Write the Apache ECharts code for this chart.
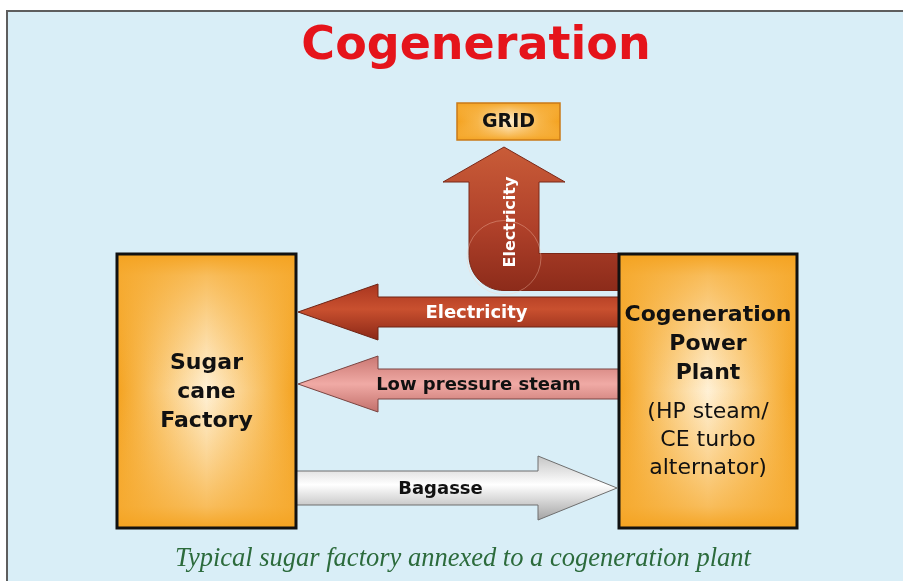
<!DOCTYPE html>
<html>
<head>
<meta charset="utf-8">
<script src="https://cdn.jsdelivr.net/npm/echarts@6/dist/echarts.min.js"></script>
<style>
html, body { margin: 0; padding: 0; background: #fff; }
#main { width: 903px; height: 581px; }
</style>
</head>
<body>
<div id="main"></div>
<script>
// diagram content, in the units of the hidden axes (one unit = one pixel)
var titleText = 'Cogeneration';
var captionText = 'Typical sugar factory annexed to a cogeneration plant';

var boxNames = ['Sugar\ncane\nFactory', 'Cogeneration\nPower\nPlant'];
var boxNotes = ['', '(HP steam/\nCE turbo\nalternator)'];
var boxLeft = [117, 619];
var boxTop = [254, 254];
var boxRight = [296, 797];
var boxBottom = [528, 528];

var gridName = 'GRID';
var gridBox = [457, 103, 560, 140];

var flowNames = ['Electricity', 'Low pressure steam', 'Bagasse'];
var flowFrom = [619, 619, 296];
var flowTo = [298, 298, 617];
var flowLevel = [312, 384, 488];

var upName = 'Electricity';
var upFrom = [620, 272];
var upTo = [504, 147];

var sans = '"DejaVu Sans", Verdana, sans-serif';

// look of each flow arrow (not data)
var flowLook = [
  { shaft: 15, head: 28, len: 80, textColor: '#fff', shift: 18, stroke: '#6e2415',
    stops: [[0, '#a8351f'], [0.45, '#c9502f'], [1, '#8a2716']] },
  { shaft: 15, head: 28, len: 80, textColor: '#111', shift: 20, stroke: '#7a4542',
    stops: [[0, '#c97671'], [0.5, '#f0aaa5'], [1, '#c26f6a']] },
  { shaft: 17, head: 32, len: 79, textColor: '#111', shift: -16, stroke: '#6f6f6f',
    stops: [[0, '#c4c4c4'], [0.45, '#ffffff'], [1, '#a2a2a2']] }
];

function grad(stops, horizontal) {
  return new echarts.graphic.LinearGradient(0, 0, horizontal ? 1 : 0, horizontal ? 0 : 1,
    stops.map(function (s) { return { offset: s[0], color: s[1] }; }));
}

// rectangular "path" glow: a horizontal gradient with a vertical fade laid over it
function glowRect(p0, p1, stroke, lw, edge) {
  var shape = { x: p0[0], y: p0[1], width: p1[0] - p0[0], height: p1[1] - p0[1] };
  return [{
    type: 'rect', shape: shape,
    style: { fill: grad([[0, '#f4a21f'], [edge, '#f7b548'], [0.5, '#fff1d6'], [1 - edge, '#f7b548'], [1, '#f4a21f']], true) }
  }, {
    type: 'rect', shape: shape,
    style: {
      fill: grad([[0, 'rgba(244,162,31,1)'], [edge * 0.7, 'rgba(246,172,52,0.75)'], [0.5, 'rgba(247,180,70,0)'],
        [1 - edge * 0.7, 'rgba(246,172,52,0.75)'], [1, 'rgba(244,162,31,1)']]),
      stroke: stroke, lineWidth: lw
    }
  }];
}

function renderBox(params, api) {
  var i = params.dataIndex;
  var p0 = api.coord([api.value(0), api.value(1)]);
  var p1 = api.coord([api.value(2), api.value(3)]);
  var cx = (p0[0] + p1[0]) / 2;
  var kids = glowRect(p0, p1, '#111', 3, 0.12);
  var hasNote = boxNotes[i] !== '';
  kids.push({
    type: 'text',
    style: {
      text: boxNames[i], x: cx, y: hasNote ? p0[1] + 90 : (p0[1] + p1[1]) / 2 + 1,
      align: 'center', verticalAlign: 'middle',
      font: 'bold 22px ' + sans, lineHeight: 29, fill: '#111'
    }
  });
  if (hasNote) {
    kids.push({
      type: 'text',
      style: {
        text: boxNotes[i], x: cx, y: p0[1] + 186,
        align: 'center', verticalAlign: 'middle',
        font: '22px ' + sans, lineHeight: 28, fill: '#111'
      }
    });
  }
  return { type: 'group', children: kids };
}

function renderGrid(params, api) {
  var p0 = api.coord([api.value(0), api.value(1)]);
  var p1 = api.coord([api.value(2), api.value(3)]);
  var kids = glowRect(p0, p1, '#c97a18', 1.5, 0.2);
  kids.push({
    type: 'text',
    style: {
      text: gridName, x: (p0[0] + p1[0]) / 2, y: (p0[1] + p1[1]) / 2 + 1,
      align: 'center', verticalAlign: 'middle', font: 'bold 19px ' + sans, fill: '#111'
    }
  });
  return { type: 'group', children: kids };
}

function renderFlow(params, api) {
  var i = params.dataIndex;
  var look = flowLook[i];
  var a = api.coord([api.value(0), api.value(2)]);
  var b = api.coord([api.value(1), api.value(2)]);
  var y = a[1];
  var dir = b[0] > a[0] ? 1 : -1;
  var neck = b[0] - dir * look.len;
  var pts = [
    [a[0], y - look.shaft], [neck, y - look.shaft], [neck, y - look.head], [b[0], y],
    [neck, y + look.head], [neck, y + look.shaft], [a[0], y + look.shaft]
  ];
  return {
    type: 'group',
    children: [{
      type: 'polygon',
      shape: { points: pts },
      style: { fill: grad(look.stops), stroke: look.stroke, lineWidth: 1 }
    }, {
      type: 'text',
      style: {
        text: flowNames[i], x: (a[0] + b[0]) / 2 + look.shift, y: y + 1,
        align: 'center', verticalAlign: 'middle', font: 'bold 18px ' + sans, fill: look.textColor
      }
    }]
  };
}

function renderUp(params, api) {
  var tail = [api.value(0), api.value(1)];
  var tip = [api.value(2), api.value(3)];
  var band = 18.5, shaft = 35, head = 61, headLen = 35;
  var cx = tip[0];
  var bottom = tail[1] + band;
  var pts = [
    tip, [cx + head, tip[1] + headLen], [cx + shaft, tip[1] + headLen],
    [cx + shaft, tail[1] - band], [tail[0], tail[1] - band], [tail[0], bottom]
  ];
  // rounded outer corner of the bend
  for (var k = 0; k <= 16; k++) {
    var t = Math.PI / 2 + (Math.PI / 2) * k / 16;
    pts.push([cx + shaft * Math.cos(t), bottom - shaft + shaft * Math.sin(t)]);
  }
  pts.push([cx - shaft, tip[1] + headLen], [cx - head, tip[1] + headLen]);
  var px = pts.map(function (p) { return api.coord(p); });
  var ring = api.coord([cx, bottom - 33]);
  var lab = api.coord([cx + 7, 222]);
  return {
    type: 'group',
    children: [{
      type: 'polygon',
      shape: { points: px },
      style: {
        fill: grad([[0, '#c95c38'], [0.55, '#b0412a'], [1, '#8c2b1a']]),
        stroke: '#7a2818', lineWidth: 1
      }
    }, {
      type: 'circle',
      shape: { cx: ring[0], cy: ring[1], r: 37 },
      style: { fill: 'none', stroke: 'rgba(255,205,185,0.35)', lineWidth: 1 }
    }, {
      type: 'text',
      x: lab[0], y: lab[1], rotation: Math.PI / 2,
      style: {
        text: upName, x: 0, y: 0, align: 'center', verticalAlign: 'middle',
        font: 'bold 16px ' + sans, fill: '#fff'
      }
    }]
  };
}

var chart = echarts.init(document.getElementById('main'));
chart.setOption({
  animation: false,
  grid: { left: 0, right: 0, top: 0, bottom: 0 },
  xAxis: { type: 'value', min: 0, max: 903, show: false },
  yAxis: { type: 'value', min: 0, max: 581, inverse: true, show: false },
  graphic: [{
    type: 'rect', z: -10,
    shape: { x: 7, y: 11, width: 920, height: 600 },
    style: { fill: '#d9eef7', stroke: '#5e5e5e', lineWidth: 2 }
  }, {
    type: 'text', z: 10,
    style: {
      text: titleText, x: 476, y: 47, align: 'center', verticalAlign: 'middle',
      font: 'bold 46px ' + sans, fill: '#e5141b'
    }
  }, {
    type: 'text', z: 10,
    style: {
      text: captionText, x: 463, y: 559, align: 'center', verticalAlign: 'middle',
      font: 'italic 26.5px "Liberation Serif", serif', fill: '#2c6b3c'
    }
  }],
  series: [{
    type: 'custom', renderItem: renderUp, silent: true,
    data: [[upFrom[0], upFrom[1], upTo[0], upTo[1]]]
  }, {
    type: 'custom', renderItem: renderGrid, silent: true,
    data: [gridBox]
  }, {
    type: 'custom', renderItem: renderFlow, silent: true,
    data: flowNames.map(function (n, i) { return [flowFrom[i], flowTo[i], flowLevel[i]]; })
  }, {
    type: 'custom', renderItem: renderBox, silent: true,
    data: boxNames.map(function (n, i) { return [boxLeft[i], boxTop[i], boxRight[i], boxBottom[i]]; })
  }]
});
</script>
</body>
</html>
